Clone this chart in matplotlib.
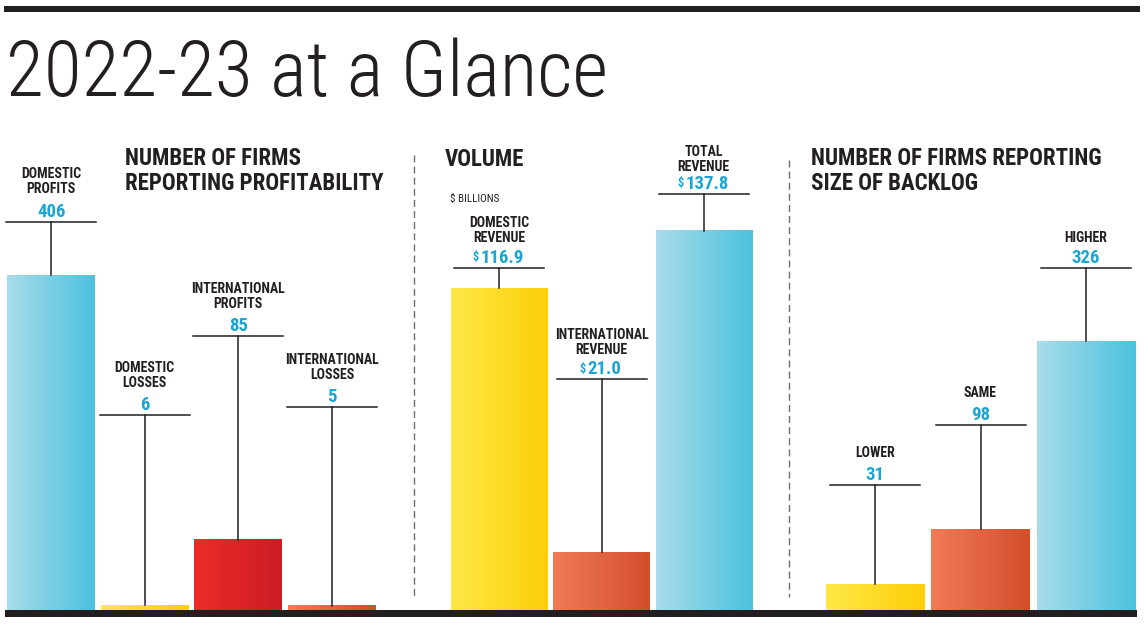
import numpy as np
import matplotlib
matplotlib.use("Agg")
import matplotlib.pyplot as plt
import matplotlib.transforms as mtransforms
from matplotlib.colors import LinearSegmentedColormap
from matplotlib.patches import Rectangle
from matplotlib.lines import Line2D

# ---------------- data ----------------
profit_labels = ["DOMESTIC\nPROFITS", "DOMESTIC\nLOSSES", "INTERNATIONAL\nPROFITS", "INTERNATIONAL\nLOSSES"]
profit_values = [406, 6, 85, 5]

volume_labels = ["DOMESTIC\nREVENUE", "INTERNATIONAL\nREVENUE", "TOTAL\nREVENUE"]
volume_values = [116.9, 21.0, 137.8]

backlog_labels = ["LOWER", "SAME", "HIGHER"]
backlog_values = [31, 98, 326]

title = "2022-23 at a Glance"
panel_titles = ["NUMBER OF FIRMS\nREPORTING PROFITABILITY", "VOLUME",
                "NUMBER OF FIRMS REPORTING\nSIZE OF BACKLOG"]
units_note = "$ BILLIONS"

# ---------------- style ----------------
W, H = 1145, 626
INK = "#231f20"
VALUE_C = "#1ba5d2"
BLUE = ("#a9dcea", "#4bc2de")
YELLOW = ("#ffe847", "#fccf08")
RED = ("#ee2b2a", "#cb1d23")
ORANGE = ("#f17b56", "#d34e2b")

COND = ["Roboto Condensed", "Liberation Sans Narrow", "Roboto", "DejaVu Sans"]
LIGHT = ["Roboto Condensed", "Roboto", "Lato", "DejaVu Sans"]

fig = plt.figure(figsize=(W / 100, H / 100), dpi=100)
fig.patch.set_facecolor("white")
pix = mtransforms.Affine2D().scale(1, -1).translate(0, H)  # top-left pixel coords


def panel(x0, x1, ymax, labels, values, colors, width, hlines, lab_off,
          dollar=False):
    n = len(values)
    ax = fig.add_axes([x0 / W, (H - 610) / H, (x1 - x0) / W, 470 / H])
    ax.axis("off")
    xs = np.arange(n)
    bars = ax.bar(xs, values, width=width, color=[c[0] for c in colors],
                  edgecolor="none", zorder=1)
    grad = np.linspace(0, 1, 256).reshape(1, -1)
    for b, c in zip(bars, colors):
        cmap = LinearSegmentedColormap.from_list("g", list(c))
        ax.imshow(grad, extent=(b.get_x(), b.get_x() + b.get_width(), 0, b.get_height()),
                  aspect="auto", cmap=cmap, interpolation="bicubic", zorder=2)
    ax.set_xlim(-0.5 * width - 0.001, n - 1 + 0.5 * width + 0.001)
    ax.set_ylim(0, ymax)
    bl = mtransforms.blended_transform_factory(ax.transData, pix)
    inv = ax.transData.inverted()
    for i, (lab, v) in enumerate(zip(labels, values)):
        hy = hlines[i]
        cx = ax.transData.transform((i, 0))[0]
        ytop = inv.transform((0, H - hy))[1]
        # leader lines
        ax.add_line(Line2D([i, i], [v, ytop], color=INK, lw=1.1, zorder=3, clip_on=False))
        xl = inv.transform((cx - 45, 0))[0]
        xr = inv.transform((cx + 45, 0))[0]
        ax.add_line(Line2D([xl, xr], [ytop, ytop], color=INK, lw=1.1, zorder=3, clip_on=False))
        # value
        txt = f"{v:.1f}" if dollar else f"{v:d}"
        t = ax.text(i + (0.03 if dollar else 0), hy - 5, txt, transform=bl, ha="center",
                    va="baseline", fontsize=13.5, fontweight="bold", color=VALUE_C,
                    family=COND)
        if dollar:
            ax.annotate("\\$", xy=(0, 0.5), xycoords=t, xytext=(-1, 0),
                        textcoords="offset points", ha="right", va="center",
                        fontsize=9, fontweight="bold", color=VALUE_C, family=COND)
        ax.text(i, hy - lab_off[i], lab, transform=bl, ha="center",
                va="baseline", fontsize=10, fontweight="bold", color=INK,
                family=COND, linespacing=1.12)
    return ax


panel(7, 376, 406 * 470 / 335, profit_labels, profit_values,
      [BLUE, YELLOW, RED, ORANGE], 0.94, [222, 415, 336, 407], [29, 28, 28, 28])
panel(451, 752, 470 / 2.752, volume_labels, volume_values,
      [YELLOW, ORANGE, BLUE], 0.94, [268, 379, 194], [26, 25, 23], dollar=True)
panel(826, 1135, 470 / 0.825, backlog_labels, backlog_values,
      [YELLOW, ORANGE, BLUE], 0.93, [485, 425, 268], [28, 28, 26])

# rules
fig.add_artist(Rectangle((4, 6), 1136, 6, transform=pix, color=INK, lw=0))
fig.add_artist(Rectangle((5, 610), 1132, 7, transform=pix, color=INK, lw=0))
for x, y0 in [(414, 155), (789, 160)]:
    fig.add_artist(Line2D([x, x], [y0, 597], transform=pix, color="#6d6e71",
                          lw=1.0, linestyle=(0, (5, 3))))

# titles
fig.text(6, 96, title, transform=pix, fontsize=56, fontweight="light",
         family=LIGHT, color=INK, va="baseline", ha="left")
fig.text(125, 190, panel_titles[0], transform=pix, fontsize=16.5, fontweight="bold",
         family=COND, color=INK, va="baseline", ha="left", linespacing=1.12)
fig.text(445, 166, panel_titles[1], transform=pix, fontsize=16.5, fontweight="bold",
         family=COND, color=INK, va="baseline", ha="left")
fig.text(811, 190, panel_titles[2], transform=pix, fontsize=16.5, fontweight="bold",
         family=COND, color=INK, va="baseline", ha="left", linespacing=1.12)
fig.text(450, 202, units_note.replace("$", "\\$"), transform=pix, fontsize=8,
         family=COND, color=INK, va="baseline", ha="left")

fig.savefig("out.png", dpi=100)
